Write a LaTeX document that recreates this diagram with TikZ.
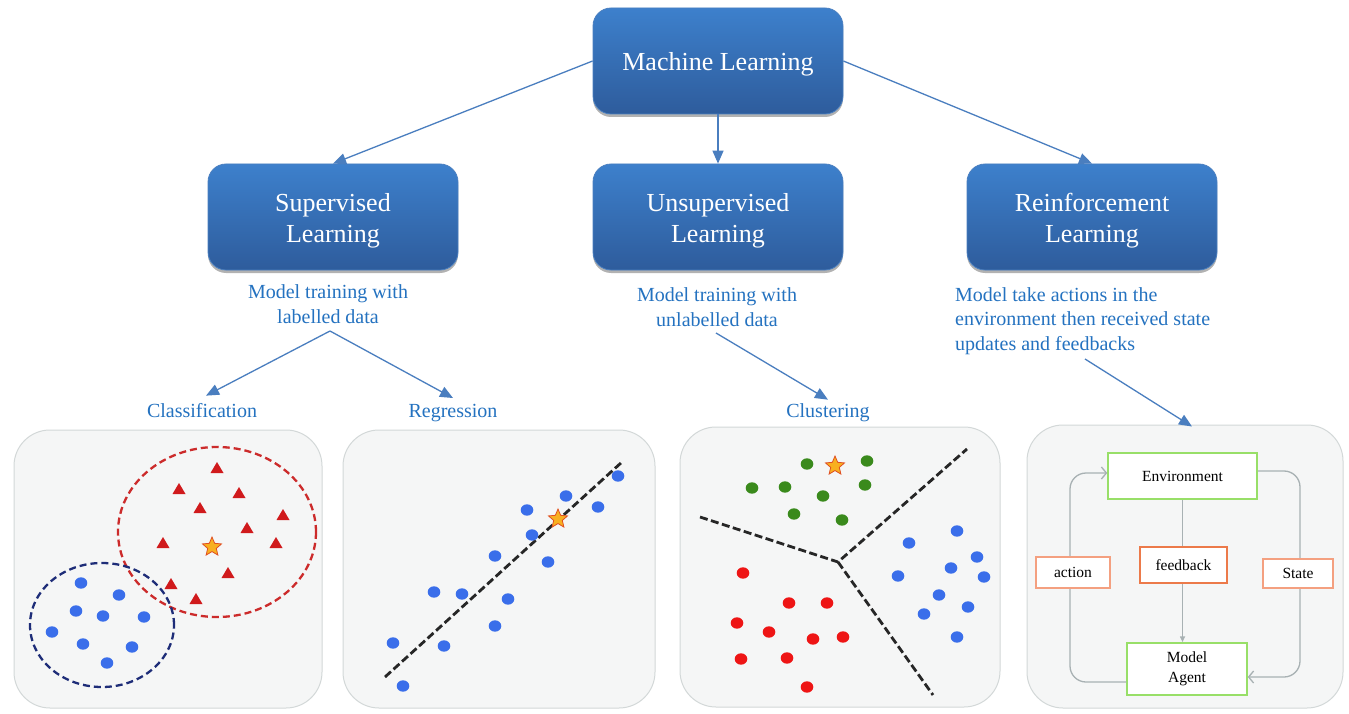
\documentclass[tikz,border=0pt]{standalone}
\usepackage{fontspec}
\setmainfont{Liberation Serif}
\usetikzlibrary{arrows.meta,shapes.geometric,shadows,calc}
\definecolor{boxtop}{HTML}{3D80CC}
\definecolor{boxbot}{HTML}{2E5C9C}
\definecolor{boxedge}{HTML}{4A7FC0}
\definecolor{arrowblue}{HTML}{4A7EBF}
\definecolor{labelblue}{HTML}{2472C0}
\definecolor{panelfill}{HTML}{F5F6F6}
\definecolor{paneledge}{HTML}{D3D8D8}
\definecolor{dotblue}{HTML}{3A6EEA}
\definecolor{dotgreen}{HTML}{3A8A1C}
\definecolor{dotred}{HTML}{EE1515}
\definecolor{trired}{HTML}{D01A1C}
\definecolor{ellred}{HTML}{CC2B2B}
\definecolor{ellblue}{HTML}{1E2D78}
\definecolor{starfill}{HTML}{F8B020}
\definecolor{staredge}{HTML}{E05020}
\definecolor{envgreen}{HTML}{98DF68}
\definecolor{fborange}{HTML}{EC7A4A}
\definecolor{lightorange}{HTML}{F4A080}
\definecolor{loopgrey}{HTML}{A8B1B3}
\tikzset{
  mainbox/.style={rounded corners=18pt, minimum width=250pt, minimum height=106pt,
    top color=boxtop, bottom color=boxbot, draw=boxedge, line width=0.8pt,
    drop shadow={shadow xshift=0pt,shadow yshift=-3pt,opacity=0.3,fill=black}},
  boxtext/.style={text=white, font=\fontsize{26}{31}\selectfont, align=center, inner sep=0pt},
  bluearrow/.style={draw=arrowblue, line width=1.3pt, -{Triangle[length=13pt,width=11pt]}},
  bluetext/.style={text=labelblue, font=\fontsize{20}{24.5}\selectfont, align=center, inner sep=0pt},
  panel/.style={rounded corners=36pt, fill=panelfill, draw=paneledge, line width=1pt, inner sep=0pt},
  blackdash/.style={draw=black!85, line width=2.8pt, dash pattern=on 8pt off 3.5pt},
  envbox/.style={draw=envgreen, line width=1.5pt, fill=white, font=\fontsize{15.5}{19.5}\selectfont, align=center, inner sep=0pt},
  orbox/.style={draw=fborange, line width=1.6pt, fill=white, font=\fontsize{15.5}{19}\selectfont, inner sep=0pt},
  lorbox/.style={draw=lightorange, line width=1.5pt, fill=white, font=\fontsize{15.5}{19}\selectfont, inner sep=0pt},
  loopline/.style={draw=loopgrey, line width=1.3pt, rounded corners=16pt},
  starmark/.style={star, star points=5, star point ratio=2.2, minimum size=20pt, fill=starfill, draw=staredge, line width=0.8pt, inner sep=0pt}
}
\begin{document}
\begin{tikzpicture}[x=1pt,y=-1pt]
\useasboundingbox[fill=white] (0,0) rectangle (1349,714);

% top boxes
\node[mainbox] (ml) at (718,61) {};
\node[mainbox] (sup) at (333,217) {};
\node[mainbox] (unsup) at (718,217) {};
\node[mainbox] (rein) at (1092,217) {};
\node[boxtext] (mltxt) at (718,64) {Machine Learning};
\node[boxtext] (suptxtb) at (333,221) {Supervised\\Learning};
\node[boxtext] (unsuptxtb) at (718,221) {Unsupervised\\Learning};
\node[boxtext] (reintxtb) at (1092,221) {Reinforcement\\Learning};

\draw[bluearrow] (ml.west) -- (sup.north);
\draw[bluearrow] (ml.south) -- (unsup.north);
\draw[bluearrow] (ml.east) -- (rein.north);

% labels
\node[bluetext] (suptxt) at (328,304) {Model training with\\labelled data};
\node[bluetext] (unsuptxt) at (717,307) {Model training with\\unlabelled data};
\node[bluetext, align=left, anchor=west] (reintxt) at (955,321) {Model take actions in the\\environment then received state\\updates and feedbacks};

\node[bluetext] (cls) at (202,411) {Classification};
\node[bluetext] (reg) at (453,413) {Regression};
\node[bluetext] (clu) at (828,413) {Clustering};

% panels
\node[panel, minimum width=308pt, minimum height=278pt] (p1) at (168,569) {};
\node[panel, minimum width=312pt, minimum height=278pt] (p2) at (499,569) {};
\node[panel, minimum width=320pt, minimum height=280pt] (p3) at (840,567) {};
\node[panel, minimum width=316pt, minimum height=283pt] (p4) at (1185,566.5) {};

\coordinate (s1) at (330,331);
\coordinate (u1) at (716,333);
\coordinate (r1) at (1085,359);
\draw[bluearrow] (s1) -- ([xshift=4pt,yshift=8pt]cls.north);
\draw[bluearrow] (s1) -- ([yshift=6pt]reg.north);
\draw[bluearrow] (u1) -- ([yshift=4pt]clu.north);
\draw[bluearrow] (r1) -- ([xshift=7pt,yshift=-2pt]p4.north);

% panel 1: classification
\draw[ellred, line width=2.3pt, dash pattern=on 7pt off 4pt] (217,532) ellipse [x radius=99pt, y radius=85pt];
\draw[ellblue, line width=2.3pt, dash pattern=on 7pt off 4pt] (102,625) ellipse [x radius=72pt, y radius=62pt];
\foreach \x/\y in {217/468,179/489,239/493,200/508,283/515,247/528,163/543,276/543,228/573,171/584,196/599}
  \fill[trired] (\x,\y) ++(0,-6) -- ++(6.5,11) -- ++(-13,0) -- cycle;
\node[starmark] (star1) at (212,547) {};
\foreach \x/\y in {81/583,119/595,76/611,103/616,144/617,52/632,83/644,132/647,107/663}
  \fill[dotblue] (\x,\y) ellipse [x radius=6.3pt, y radius=5.7pt];

% panel 2: regression
\draw[blackdash] (385,677) -- (622,462);
\foreach \x/\y in {618/476,566/496,598/507,527/510,532/535,495/556,548/562,434/592,462/594,508/599,495/626,393/643,444/646,403/686}
  \fill[dotblue] (\x,\y) ellipse [x radius=6.3pt, y radius=5.7pt];
\node[starmark] (star2) at (558,519) {};

% panel 3: clustering
\coordinate (c3) at (838,562);
\draw[blackdash] (700,517) -- (c3) -- (967,449);
\draw[blackdash] (c3) -- (933,695);
\foreach \x/\y in {807/464,867/461,752/488,785/487,865/485,823/496,794/514,842/520}
  \fill[dotgreen] (\x,\y) ellipse [x radius=6.3pt, y radius=5.7pt];
\node[starmark] (star3) at (835,466) {};
\foreach \x/\y in {957/531,909/543,977/557,951/568,898/576,984/577,939/595,968/607,924/614,957/637}
  \fill[dotblue] (\x,\y) ellipse [x radius=6.3pt, y radius=5.7pt];
\foreach \x/\y in {743/573,789/603,827/603,737/623,769/632,813/639,843/637,741/659,787/658,807/687}
  \fill[dotred] (\x,\y) ellipse [x radius=6.3pt, y radius=5.7pt];

% panel 4: reinforcement loop
\node[envbox, minimum width=149pt, minimum height=46pt] (env) at (1182.5,476) {Environment};
\node[envbox, minimum width=120pt, minimum height=52pt] (agent) at (1187,669) {Model\\Agent};
\coordinate (actx) at (1070,572.5);
\coordinate (statex) at (1300,573.5);
\draw[loopline, -{Straight Barb[length=5pt,width=12pt]}] ([yshift=-13pt]agent.west) -| (actx) |- ([yshift=3pt]env.west);
\draw[loopline, -{Straight Barb[length=5pt,width=12pt]}] ([yshift=5pt]env.east) -| (statex) |- ([yshift=-8pt]agent.east);
\draw[draw=loopgrey, line width=1.6pt, -{Triangle[length=6pt,width=5pt]}] (env.south) -- (env.south |- agent.north);
\node[orbox, minimum width=87pt, minimum height=36pt] (fb) at (1183.5,565) {feedback};
\node[lorbox, minimum width=74pt, minimum height=31pt] (act) at (1073,572.5) {action};
\node[lorbox, minimum width=70pt, minimum height=29pt] (state) at (1298,573.5) {State};
\end{tikzpicture}
\end{document}
